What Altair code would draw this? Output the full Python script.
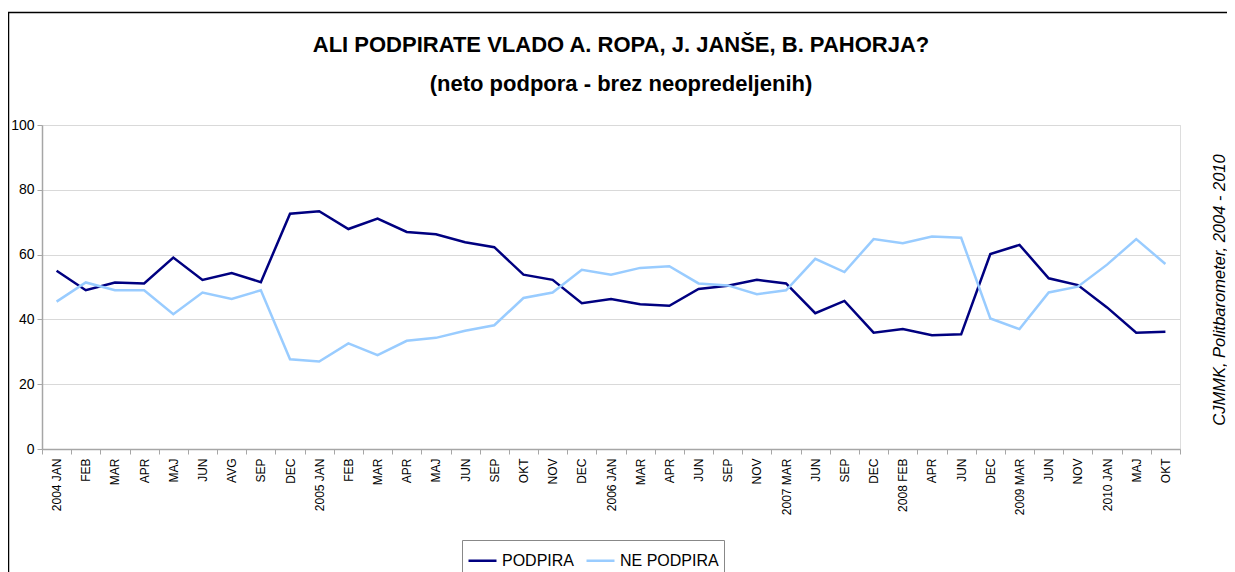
import altair as alt
import pandas as pd

labels = ["2004 JAN", "FEB", "MAR", "APR", "MAJ", "JUN", "AVG", "SEP", "DEC",
          "2005 JAN", "FEB", "MAR", "APR", "MAJ", "JUN", "SEP", "OKT", "NOV", "DEC",
          "2006 JAN", "MAR", "APR", "JUN", "SEP", "NOV",
          "2007 MAR", "JUN", "SEP", "DEC",
          "2008 FEB", "APR", "JUN", "DEC",
          "2009 MAR", "JUN", "NOV",
          "2010 JAN", "MAJ", "OKT"]

podpira = [55.0, 49.0, 51.4, 51.1, 59.1, 52.2, 54.3, 51.5, 72.6,
           73.4, 67.9, 71.1, 67.0, 66.3, 63.8, 62.3, 53.8, 52.2, 45.0,
           46.3, 44.7, 44.2, 49.4, 50.4, 52.2,
           51.1, 41.9, 45.7, 35.9,
           37.0, 35.1, 35.4, 60.2,
           63.0, 52.7, 50.6,
           43.7, 35.9, 36.2]

ne_podpira = [45.5, 51.4, 49.0, 49.0, 41.6, 48.3, 46.3, 49.0, 27.7,
              27.0, 32.6, 29.0, 33.4, 34.3, 36.5, 38.2, 46.6, 48.3, 55.3,
              53.8, 55.9, 56.4, 51.1, 50.5, 47.8,
              49.0, 58.7, 54.6, 64.8,
              63.5, 65.6, 65.2, 40.3,
              37.0, 48.3, 50.1,
              56.9, 64.8, 57.1]

series_names = ["PODPIRA", "NE PODPIRA"]
series_colors = ["#000080", "#99CCFF"]

title_text = "ALI PODPIRATE VLADO A. ROPA, J. JANŠE, B. PAHORJA?"
subtitle_text = "(neto podpora - brez neopredeljenih)"
source_text = "CJMMK, Politbarometer, 2004 - 2010"

keys = [f"{i:02d}|{lab}" for i, lab in enumerate(labels)]
rows = []
for name, vals in zip(series_names, [podpira, ne_podpira]):
    for k, v in zip(keys, vals):
        rows.append({"key": k, "series": name, "value": v})
df = pd.DataFrame(rows)

FONT = "Liberation Sans Narrow, Liberation Sans, Arial, sans-serif"
W, H = 1138, 324

lines = alt.Chart(df).mark_line(strokeWidth=2.5).encode(
    x=alt.X("key:N", sort=keys, title=None,
            scale=alt.Scale(paddingInner=0, paddingOuter=0),
            axis=alt.Axis(labelExpr="split(datum.value,'|')[1]", labelAngle=270,
                          labelAlign="right", labelBaseline="middle",
                          labelFont="Liberation Sans, Arial", labelFontSize=12,
                          labelColor="black", labelPadding=4,
                          tickBand="extent", tickSize=5, tickColor="#A6A6A6",
                          domainColor="#A6A6A6", domainWidth=1.5, grid=False)),
    y=alt.Y("value:Q", title=None,
            scale=alt.Scale(domain=[0, 100], nice=False),
            axis=alt.Axis(values=[0, 20, 40, 60, 80, 100], labelFont=FONT,
                          labelFontSize=14, labelColor="black", labelPadding=3,
                          tickSize=5, tickColor="#A6A6A6", domainColor="#A6A6A6",
                          domainWidth=1.5, gridColor="#D9D9D9", gridWidth=1)),
    color=alt.Color("series:N", sort=series_names,
                    scale=alt.Scale(domain=series_names, range=series_colors),
                    legend=alt.Legend(title=None, orient="none", legendX=420, legendY=415,
                                      direction="horizontal", symbolType="stroke",
                                      symbolSize=784, symbolStrokeWidth=2.5,
                                      labelFont="Liberation Sans, Arial", labelFontSize=16,
                                      labelColor="black", strokeColor="#888888",
                                      padding=5, columnPadding=6, labelOffset=4)),
    order=alt.Order("series:N", sort="descending"),
)

source = alt.Chart(pd.DataFrame({"t": [source_text]})).mark_text(
    angle=270, font="Liberation Sans, Arial", fontSize=16.5, fontStyle="italic",
    align="center", baseline="middle", color="black"
).encode(text="t:N", x=alt.value(W + 40), y=alt.value(165))

title = alt.Chart(pd.DataFrame({"t": [title_text]})).mark_text(
    font=FONT, fontSize=22, fontWeight="bold", align="center", baseline="alphabetic",
    color="black"
).encode(text="t:N", x=alt.value(579), y=alt.value(-73))

subtitle = alt.Chart(pd.DataFrame({"t": [subtitle_text]})).mark_text(
    font=FONT, fontSize=22, fontWeight="bold", align="center", baseline="alphabetic",
    color="black"
).encode(text="t:N", x=alt.value(579), y=alt.value(-34))

frame = alt.Chart(pd.DataFrame({"a": [0]})).mark_rect(
    fill=None, stroke="black", strokeWidth=1.5
).encode(x=alt.value(-33.5), y=alt.value(-112.5), x2=alt.value(W + 80), y2=alt.value(H + 140))

chart = alt.layer(frame, lines, source, title, subtitle).properties(
    width=W, height=H,
    autosize=alt.AutoSizeParams(type="none"),
    padding={"left": 34, "top": 117, "right": 47, "bottom": 123},
).configure_view(stroke="#A6A6A6", strokeWidth=1.5).configure(background="white")

chart.save("out.html", embed_options={"renderer": "svg", "actions": False})
